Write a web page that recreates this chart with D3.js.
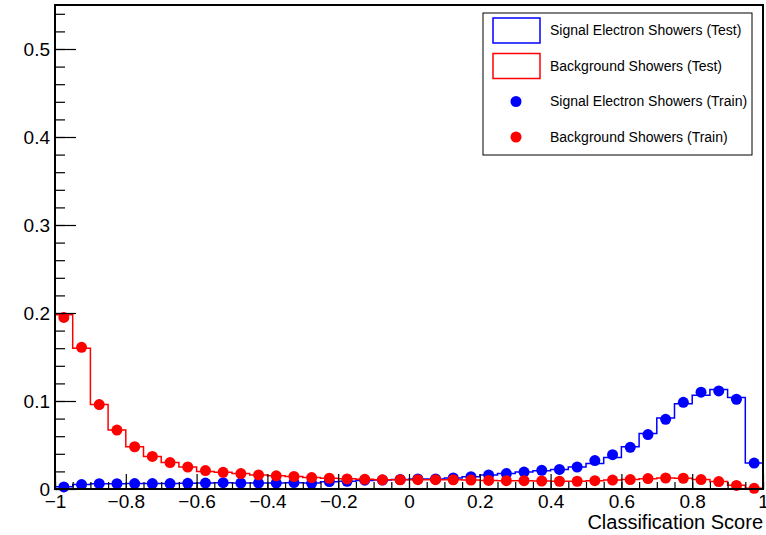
<!DOCTYPE html>
<html>
<head>
<meta charset="utf-8">
<script src="https://cdn.jsdelivr.net/npm/d3@7"></script>
<style>
  body { margin: 0; background: #fff; }
  text { font-family: "Liberation Sans", Arial, Helvetica, sans-serif; }
</style>
</head>
<body>
<script>
// classifier output, 40 bins from -1 to 1
const binEdges = d3.range(0, 41).map(i => -1 + i * 0.05);

const sigTest = [0.0025, 0.005, 0.006, 0.006, 0.0062, 0.0062, 0.0063, 0.0065, 0.0067, 0.007,
  0.0068, 0.0068, 0.0069, 0.0072, 0.0068, 0.0082, 0.0088, 0.0098, 0.0102, 0.0108,
  0.0113, 0.0115, 0.0124, 0.0138, 0.0158, 0.0175, 0.0192, 0.0208, 0.0222, 0.025,
  0.0289, 0.0357, 0.048, 0.063, 0.0807, 0.097, 0.1065, 0.113, 0.104, 0.0295];
const bkgTest = [0.198, 0.160, 0.096, 0.067, 0.048, 0.037, 0.030, 0.025, 0.020, 0.019,
  0.0175, 0.016, 0.015, 0.0142, 0.013, 0.0122, 0.0116, 0.011, 0.0106, 0.0105,
  0.0106, 0.0106, 0.0104, 0.0101, 0.0098, 0.0095, 0.0093, 0.0091, 0.0088, 0.0088,
  0.0094, 0.0101, 0.0107, 0.0117, 0.0124, 0.0122, 0.0108, 0.0085, 0.0042, 0.0008];
const sigTrain = [0.0023, 0.005, 0.006, 0.006, 0.0062, 0.0062, 0.0062, 0.0065, 0.0068, 0.0072,
  0.0068, 0.0068, 0.0068, 0.0073, 0.0065, 0.0084, 0.0088, 0.0100, 0.0102, 0.0108,
  0.0115, 0.0114, 0.0125, 0.0140, 0.0160, 0.0175, 0.0193, 0.0212, 0.0222, 0.025,
  0.0323, 0.039, 0.0474, 0.0618, 0.0792, 0.0985, 0.110, 0.1114, 0.102, 0.0295];
const bkgTrain = [0.195, 0.161, 0.096, 0.067, 0.048, 0.037, 0.030, 0.025, 0.021, 0.019,
  0.0175, 0.016, 0.015, 0.0142, 0.013, 0.0122, 0.0115, 0.011, 0.0104, 0.0105,
  0.0106, 0.0106, 0.0105, 0.0102, 0.0098, 0.0095, 0.0094, 0.0091, 0.0088, 0.0088,
  0.0095, 0.0102, 0.0107, 0.0118, 0.0125, 0.0122, 0.0107, 0.0084, 0.004, 0.0008];

const xMajor = [-1, -0.8, -0.6, -0.4, -0.2, 0, 0.2, 0.4, 0.6, 0.8, 1];
const yMajor = [0, 0.1, 0.2, 0.3, 0.4, 0.5];

const legendItems = [
  { label: "Signal Electron Showers (Test)", color: "#0000ff", kind: "box" },
  { label: "Background Showers (Test)", color: "#ff0000", kind: "box" },
  { label: "Signal Electron Showers (Train)", color: "#0000ff", kind: "dot" },
  { label: "Background Showers (Train)", color: "#ff0000", kind: "dot" }
];

const width = 766, height = 535;
const margin = { top: 5, right: 2, bottom: 46, left: 55 };

const x = d3.scaleLinear().domain([-1, 1]).range([margin.left, width - margin.right - 1]);
const y = d3.scaleLinear().domain([0, 0.55]).range([height - margin.bottom, margin.top]);

const fmt = d => d === 0 ? "0" : d3.format("~g")(d);

const svg = d3.select("body").append("svg")
  .attr("width", width)
  .attr("height", height);

// step outline like a ROOT histogram
function stepPath(vals) {
  const pts = [[x(-1), y(0)]];
  vals.forEach((v, i) => {
    pts.push([x(binEdges[i]), y(v)]);
    pts.push([x(binEdges[i + 1]), y(v)]);
  });
  pts.push([x(1), y(0)]);
  return d3.line()(pts);
}

svg.append("path").attr("d", stepPath(sigTest))
  .attr("fill", "none").attr("stroke", "#0000ff").attr("stroke-width", 1.5);
svg.append("path").attr("d", stepPath(bkgTest))
  .attr("fill", "none").attr("stroke", "#ff0000").attr("stroke-width", 1.5);

const centers = binEdges.slice(0, -1).map(e => e + 0.025);

svg.append("g").selectAll("circle")
  .data(sigTrain)
  .join("circle")
  .attr("cx", (d, i) => x(centers[i]))
  .attr("cy", d => y(d))
  .attr("r", 5.5)
  .attr("fill", "#0000ff");

svg.append("g").selectAll("circle")
  .data(bkgTrain)
  .join("circle")
  .attr("cx", (d, i) => x(centers[i]))
  .attr("cy", d => y(d))
  .attr("r", 5.5)
  .attr("fill", "#ff0000");

// axes
svg.append("g")
  .attr("transform", `translate(${x(-1)},0)`)
  .call(d3.axisLeft(y).tickValues(yMajor).tickFormat(fmt).tickSize(-21).tickPadding(5));
svg.append("g")
  .attr("transform", `translate(${x(-1)},0)`)
  .call(d3.axisLeft(y).tickValues(d3.range(0, 28).map(i => i * 0.02)).tickFormat("").tickSize(-10));

svg.append("g")
  .attr("transform", `translate(0,${y(0)})`)
  .call(d3.axisBottom(x).tickValues(xMajor).tickFormat(fmt).tickSize(-15).tickPadding(6));
svg.append("g")
  .attr("transform", `translate(0,${y(0)})`)
  .call(d3.axisBottom(x).tickValues(binEdges).tickFormat("").tickSize(-7));

svg.selectAll(".domain").remove();
svg.selectAll(".tick line").attr("stroke", "#000").attr("stroke-width", 1.2);
svg.selectAll(".tick text").attr("font-size", 19).attr("fill", "#000")
  .attr("font-family", "'Liberation Sans', Arial, sans-serif");

// frame
svg.append("rect")
  .attr("x", x(-1)).attr("y", y(0.55))
  .attr("width", x(1) - x(-1)).attr("height", y(0) - y(0.55))
  .attr("fill", "none").attr("stroke", "#000").attr("stroke-width", 2);

svg.append("text")
  .attr("x", x(1)).attr("y", 529)
  .attr("text-anchor", "end")
  .attr("font-size", 20)
  .text("Classification Score");

// legend
const lg = svg.append("g").attr("transform", "translate(483,13)");
lg.append("rect").attr("width", 269).attr("height", 142)
  .attr("fill", "#fff").attr("stroke", "#000").attr("stroke-width", 1);
legendItems.forEach((it, i) => {
  const cy = 17.5 + i * 35.5;
  if (it.kind === "box") {
    lg.append("rect").attr("x", 10).attr("y", cy - 12.5).attr("width", 47).attr("height", 25)
      .attr("fill", "none").attr("stroke", it.color).attr("stroke-width", 1.5);
  } else {
    lg.append("circle").attr("cx", 33).attr("cy", cy).attr("r", 5.5).attr("fill", it.color);
  }
  lg.append("text").attr("x", 67).attr("y", cy).attr("dy", "0.35em")
    .attr("font-size", 14).text(it.label);
});
</script>
</body>
</html>
